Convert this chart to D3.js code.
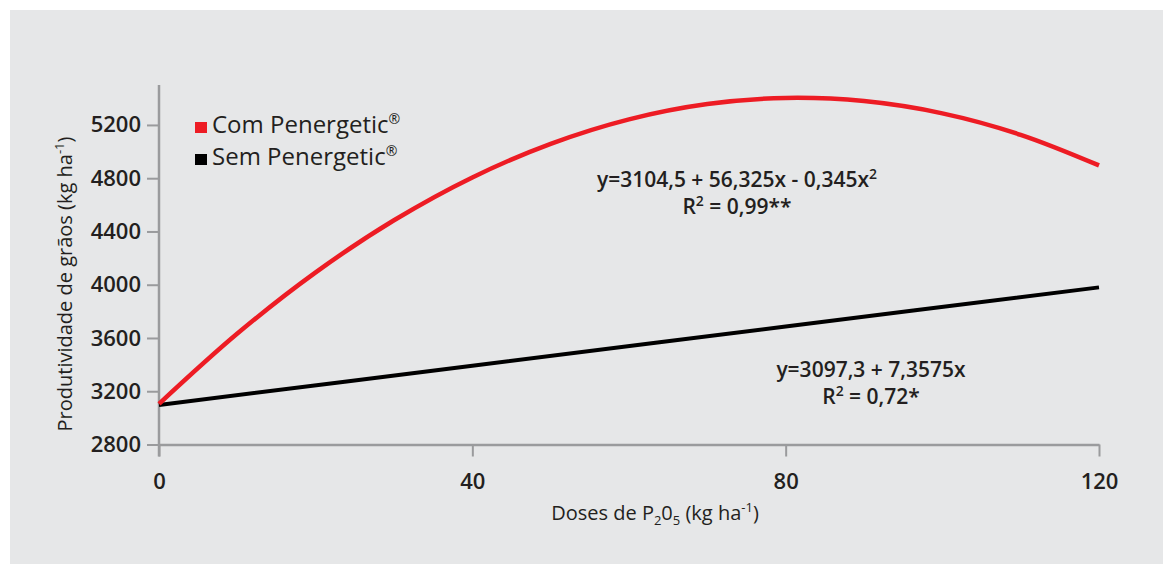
<!DOCTYPE html>
<html>
<head>
<meta charset="utf-8">
<script src="https://cdn.jsdelivr.net/npm/d3@7"></script>
<style>
  body { margin: 0; background: #fff; }
  text { font-family: "Open Sans", sans-serif; fill: #231f20; }
</style>
</head>
<body>
<div id="chart"></div>
<script>
var svgWidth = 1163;
var svgHeight = 564;

// data
var doses = [0, 10, 20, 30, 40, 50, 60, 70, 80, 90, 100, 110, 120];
var comPenergetic = [3105, 3633, 4093, 4484, 4806, 5058, 5242, 5357, 5403, 5379, 5287, 5126, 4896];
var semDoses = [0, 40, 80, 120];
var semPenergetic = [3097, 3392, 3686, 3980];
var xTicks = [0, 40, 80, 120];
var yTicks = [2800, 3200, 3600, 4000, 4400, 4800, 5200];

var margin = { top: 85, right: 64, bottom: 120, left: 159 };
var width = 1099 - margin.left;
var height = 444.5 - margin.top;

var svg = d3.select("#chart").append("svg")
  .attr("width", svgWidth)
  .attr("height", svgHeight);

svg.append("rect")
  .attr("x", 10).attr("y", 10)
  .attr("width", svgWidth - 10).attr("height", svgHeight - 10)
  .attr("fill", "#e6e7e8");

var chartGroup = svg.append("g")
  .attr("transform", `translate(${margin.left},${margin.top})`);

var xScale = d3.scaleLinear().domain([0, 120]).range([0, width]);
var yScale = d3.scaleLinear().domain([2800, 5500]).range([height, 0]);

var bottomAxis = d3.axisBottom(xScale).tickValues(xTicks).tickFormat(d3.format("d"))
  .tickSize(12).tickPadding(17).tickSizeOuter(0);
var leftAxis = d3.axisLeft(yScale).tickValues(yTicks).tickFormat(d3.format("d"))
  .tickSize(12).tickPadding(6).tickSizeOuter(0);

var xAxis = chartGroup.append("g")
  .attr("transform", `translate(0, ${height})`)
  .call(bottomAxis);

var yAxis = chartGroup.append("g").call(leftAxis);

[xAxis, yAxis].forEach(function(ax) {
  ax.select(".domain").attr("stroke", "#9a9b9d").attr("stroke-width", 2.5);
  ax.selectAll(".tick line").attr("stroke", "#9a9b9d").attr("stroke-width", 2);
  ax.selectAll(".tick text")
    .attr("font-family", "'Open Sans', sans-serif")
    .attr("font-size", 22)
    .attr("font-weight", 600)
    .attr("fill", "#231f20");
});
// y axis continues a little below the x axis
yAxis.select(".domain").attr("d", `M0,0V${height + 12}`);

var line = d3.line()
  .x(d => xScale(d[0]))
  .y(d => yScale(d[1]))
  .curve(d3.curveCatmullRom);

chartGroup.append("path")
  .datum(semDoses.map((d, i) => [d, semPenergetic[i]]))
  .attr("d", line)
  .attr("fill", "none")
  .attr("stroke", "#000")
  .attr("stroke-width", 4);

chartGroup.append("path")
  .datum(doses.map((d, i) => [d, comPenergetic[i]]))
  .attr("d", line)
  .attr("fill", "none")
  .attr("stroke", "#ed1c24")
  .attr("stroke-width", 4.5);

// legend
var legend = [
  { name: "Com Penergetic", color: "#ed1c24", y: 133 },
  { name: "Sem Penergetic", color: "#000", y: 165 }
];
legend.forEach(function(l) {
  svg.append("rect")
    .attr("x", 195).attr("y", l.y - 11)
    .attr("width", 12).attr("height", 11)
    .attr("fill", l.color);
  var t = svg.append("text")
    .attr("x", 212).attr("y", l.y)
    .attr("font-size", 24)
    .text(l.name);
  t.append("tspan").attr("font-size", 14).attr("dy", -9).text("®");
});

// equations
function equation(x, y, parts, r2) {
  var t = svg.append("text")
    .attr("x", x).attr("y", y)
    .attr("text-anchor", "middle")
    .attr("font-size", 21)
    .attr("font-weight", 600);
  t.append("tspan").text(parts[0]);
  if (parts[1]) {
    t.append("tspan").attr("font-size", 14).attr("dy", -8).text(parts[1]);
  }
  var r = svg.append("text")
    .attr("x", x).attr("y", y + 27)
    .attr("text-anchor", "middle")
    .attr("font-size", 21)
    .attr("font-weight", 600);
  r.append("tspan").text("R");
  r.append("tspan").attr("font-size", 14).attr("dy", -8).text("2");
  r.append("tspan").attr("dy", 8).text(r2);
}
equation(737, 187, ["y=3104,5 + 56,325x - 0,345x", "2"], " = 0,99**");
equation(871, 377, ["y=3097,3 + 7,3575x", ""], " = 0,72*");

// axis titles
var xTitle = svg.append("text")
  .attr("x", 655).attr("y", 520)
  .attr("text-anchor", "middle")
  .attr("font-size", 20);
xTitle.append("tspan").text("Doses de P");
xTitle.append("tspan").attr("font-size", 13).attr("dy", 5).text("2");
xTitle.append("tspan").attr("dy", -5).text("0");
xTitle.append("tspan").attr("font-size", 13).attr("dy", 5).text("5");
xTitle.append("tspan").attr("dy", -5).text(" (kg ha");
xTitle.append("tspan").attr("font-size", 13).attr("dy", -8).text("-1");
xTitle.append("tspan").attr("dy", 8).text(")");

var yTitle = svg.append("text")
  .attr("transform", "translate(72, 284) rotate(-90)")
  .attr("text-anchor", "middle")
  .attr("font-size", 20);
yTitle.append("tspan").text("Produtividade de grãos (kg ha");
yTitle.append("tspan").attr("font-size", 13).attr("dy", -8).text("-1");
yTitle.append("tspan").attr("dy", 8).text(")");
</script>
</body>
</html>
